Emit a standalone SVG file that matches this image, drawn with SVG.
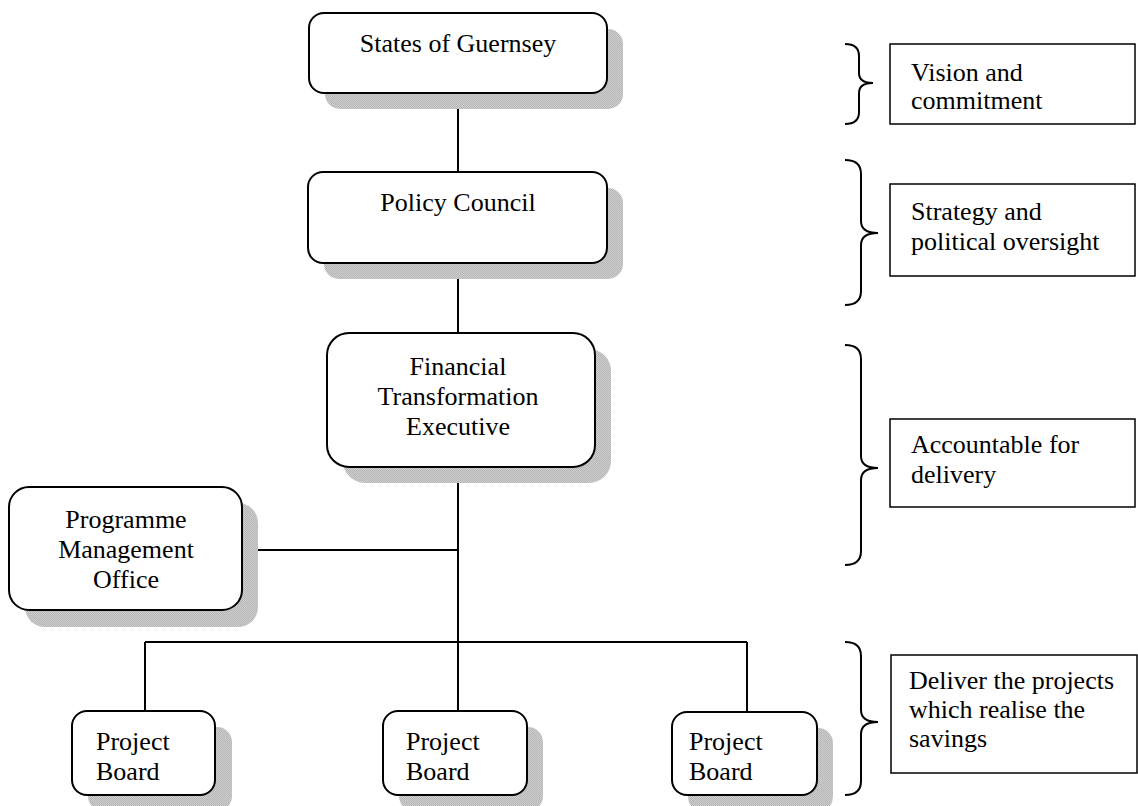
<svg xmlns="http://www.w3.org/2000/svg" width="1138" height="806" viewBox="0 0 1138 806">
<defs>
<pattern id="hatch" width="2" height="2" patternUnits="userSpaceOnUse">
<rect width="2" height="2" fill="#cfcfcf"/>
<rect width="1" height="1" fill="#b5b5b5"/>
<rect x="1" y="1" width="1" height="1" fill="#b5b5b5"/>
</pattern>
</defs>
<style>
.shadow{fill:url(#hatch);stroke:none}
.node{fill:#ffffff;stroke:#000;stroke-width:2}
.box{fill:#ffffff;stroke:#000;stroke-width:1.5}
.t{font-family:"Liberation Serif","Times New Roman",serif;font-size:26px;fill:#000}
.c{text-anchor:middle}
.conn{stroke:#000;stroke-width:2;fill:none}
.brace{stroke:#000;stroke-width:2;fill:none}
</style>
<rect width="1138" height="806" fill="#ffffff"/>

<g id="connectors">
<line class="conn" x1="458" y1="93" x2="458" y2="172"/>
<line class="conn" x1="458" y1="263" x2="458" y2="333"/>
<line class="conn" x1="458" y1="467" x2="458" y2="711"/>
<line class="conn" x1="242" y1="550" x2="458" y2="550"/>
<line class="conn" x1="145" y1="642" x2="747" y2="642"/>
<line class="conn" x1="145" y1="642" x2="145" y2="711"/>
<line class="conn" x1="747" y1="642" x2="747" y2="712"/>
</g>

<g id="states">
<rect class="shadow" x="325" y="29" width="298" height="80" rx="15"/>
<rect class="node" x="309" y="13" width="298" height="80" rx="15"/>
<text class="t c" x="458" y="52">States of Guernsey</text>
</g>

<g id="policy">
<rect class="shadow" x="324" y="188" width="299" height="91" rx="15"/>
<rect class="node" x="308" y="172" width="299" height="91" rx="15"/>
<text class="t c" x="458" y="211">Policy Council</text>
</g>

<g id="fte">
<rect class="shadow" x="343" y="349" width="268" height="134" rx="22"/>
<rect class="node" x="327" y="333" width="268" height="134" rx="22"/>
<text class="t c" x="458" y="375">Financial</text>
<text class="t c" x="458" y="405">Transformation</text>
<text class="t c" x="458" y="435">Executive</text>
</g>

<g id="pmo">
<rect class="shadow" x="25" y="503" width="233" height="124" rx="20"/>
<rect class="node" x="9" y="487" width="233" height="123" rx="20"/>
<text class="t c" x="126" y="528">Programme</text>
<text class="t c" x="126" y="558">Management</text>
<text class="t c" x="126" y="588">Office</text>
</g>

<g id="board1">
<rect class="shadow" x="88" y="727" width="144" height="84" rx="15"/>
<rect class="node" x="72" y="711" width="143" height="84" rx="15"/>
<text class="t" x="96" y="750">Project</text>
<text class="t" x="96" y="780">Board</text>
</g>

<g id="board2">
<rect class="shadow" x="399" y="727" width="144" height="84" rx="15"/>
<rect class="node" x="383" y="711" width="144" height="84" rx="15"/>
<text class="t" x="406" y="750">Project</text>
<text class="t" x="406" y="780">Board</text>
</g>

<g id="board3">
<rect class="shadow" x="688" y="728" width="145" height="84" rx="15"/>
<rect class="node" x="672" y="712" width="145" height="83" rx="15"/>
<text class="t" x="689" y="750">Project</text>
<text class="t" x="689" y="780">Board</text>
</g>

<g id="braces">
<path class="brace" d="M845 44 Q859 44 859 56 L859 73 Q859 83 873 83 Q859 83 859 93 L859 112 Q859 124 845 124"/>
<path class="brace" d="M845 160 Q861 160 861 174 L861 221 Q861 233 878 233 Q861 233 861 245 L861 291 Q861 305 845 305"/>
<path class="brace" d="M845 345 Q861 345 861 359 L861 456 Q861 468 878 468 Q861 468 861 480 L861 551 Q861 565 845 565"/>
<path class="brace" d="M845 642 Q861 642 861 656 L861 710 Q861 722 878 722 Q861 722 861 734 L861 781 Q861 795 845 795"/>
</g>

<g id="vision">
<rect class="box" x="890" y="44" width="245" height="80"/>
<text class="t" x="911" y="81">Vision and</text>
<text class="t" x="911" y="109">commitment</text>
</g>

<g id="strategy">
<rect class="box" x="890" y="184" width="245" height="92"/>
<text class="t" x="911" y="220">Strategy and</text>
<text class="t" x="911" y="250">political oversight</text>
</g>

<g id="accountable">
<rect class="box" x="890" y="419" width="245" height="88"/>
<text class="t" x="911" y="453">Accountable for</text>
<text class="t" x="911" y="483">delivery</text>
</g>

<g id="deliver">
<rect class="box" x="891" y="655" width="246" height="118"/>
<text class="t" x="909" y="689">Deliver the projects</text>
<text class="t" x="909" y="718">which realise the</text>
<text class="t" x="909" y="747">savings</text>
</g>
</svg>
